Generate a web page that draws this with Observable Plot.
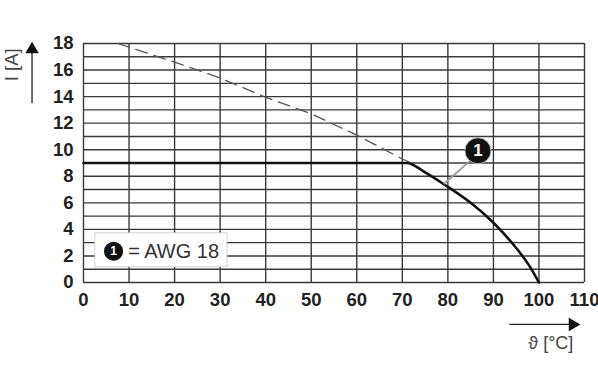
<!DOCTYPE html>
<html><head><meta charset="utf-8">
<script src="https://cdn.jsdelivr.net/npm/d3@7"></script>
<script src="https://cdn.jsdelivr.net/npm/@observablehq/plot@0.6"></script>
<style>body{margin:0;background:#fff}</style>
</head><body><div id="chart"></div>
<script>
const xTicks = [0,10,20,30,40,50,60,70,80,90,100,110];
const yGrid = d3.range(0,19,1);
const yTicks = [0,2,4,6,8,10,12,14,16,18];
// dashed extrapolated curve
const dashedX = [7.5,20,30,40,50,60,70,72];
const dashedY = [18,16.6,15.4,13.95,12.7,11.1,9.3,9.0];
// solid curve: AWG 18
const solidX = [0,71,75,80,85,90,95,98,100];
const solidY = [9,9,8.3,7.2,6.0,4.5,2.6,1.2,0];
const legendLabel = "= AWG 18";
const marker = "1";
const xLabel = "ϑ [°C]";
const yLabel = "I [A]";

const dashed = dashedX.map((x,i)=>({x,y:dashedY[i]}));
const solid = solidX.map((x,i)=>({x,y:solidY[i]}));
const FONT = "'Liberation Sans', Arial, sans-serif";

const chart = Plot.plot({
  width: 598, height: 379,
  marginLeft: 83, marginRight: 14, marginTop: 43, marginBottom: 97,
  x: {domain:[0,110]}, y: {domain:[0,18]},
  style: {fontFamily: FONT, background:"#fff"},
  marks: [
    Plot.ruleY(yGrid, {stroke:"#3a3a3a", strokeWidth:1.4}),
    Plot.ruleX(xTicks, {stroke:"#3a3a3a", strokeWidth:1.4}),
    Plot.axisX(xTicks, {tickSize:0, tickPadding:10, fontSize:18.5, fontWeight:"bold", fill:"#222", label:null}),
    Plot.axisY(yTicks, {tickSize:0, tickPadding:10, fontSize:18.5, fontWeight:"bold", fill:"#222", label:null}),
    Plot.line(dashed, {x:"x", y:"y", stroke:"#555", strokeWidth:1.3, strokeDasharray:"12,7"}),
    Plot.line(solid, {x:"x", y:"y", stroke:"#111", strokeWidth:2.6, curve:"monotone-x"}),
    // leader line to marker
    Plot.link([{x1:79.1,y1:7.42,x2:85,y2:9.2}], {x1:"x1",y1:"y1",x2:"x2",y2:"y2", stroke:"#9a9a9a", strokeWidth:1.8}),
    Plot.dot([{x:86.6,y:9.92}], {x:"x", y:"y", r:13, fill:"#111", stroke:"#bbb", strokeWidth:1}),
    Plot.text([{x:86.6,y:9.92}], {x:"x", y:"y", text:()=>marker, fill:"#fff", fontSize:17, fontWeight:"bold"}),
    // legend box
    Plot.rect([{x1:2.6,x2:31.6,y1:1.15,y2:3.7}], {x1:"x1",x2:"x2",y1:"y1",y2:"y2", fill:"#fff", stroke:"#d0d0d0", strokeWidth:1}),
    Plot.dot([{x:6.6,y:2.35}], {x:"x", y:"y", r:9.5, fill:"#111"}),
    Plot.text([{x:6.6,y:2.35}], {x:"x", y:"y", text:()=>marker, fill:"#fff", fontSize:12, fontWeight:"bold"}),
    Plot.text([{x:9.8,y:2.35}], {x:"x", y:"y", text:()=>legendLabel, textAnchor:"start", fill:"#333", fontSize:20}),
    // x axis arrow + label
    Plot.link([{x1:93.5,y1:-3.16,x2:107,y2:-3.16}], {x1:"x1",y1:"y1",x2:"x2",y2:"y2", stroke:"#222", strokeWidth:1.3, clip:false}),
    Plot.dot([{x:107.4,y:-3.16}], {x:"x", y:"y", symbol:"triangle", rotate:90, r:5, fill:"#111", clip:false}),
    Plot.text([{x:102.6,y:-4.56}], {x:"x", y:"y", text:()=>xLabel, fill:"#444", fontSize:18, clip:false}),
    // y axis arrow + label
    Plot.link([{x1:-11.3,y1:13.5,x2:-11.3,y2:17.3}], {x1:"x1",y1:"y1",x2:"x2",y2:"y2", stroke:"#222", strokeWidth:1.3, clip:false}),
    Plot.dot([{x:-11.3,y:17.55}], {x:"x", y:"y", symbol:"triangle", r:5, fill:"#111", clip:false}),
    Plot.text([{x:-15.6,y:16.4}], {x:"x", y:"y", text:()=>yLabel, rotate:-90, fill:"#444", fontSize:18.5, clip:false})
  ]
});
document.getElementById("chart").appendChild(chart);
</script>
</body></html>
